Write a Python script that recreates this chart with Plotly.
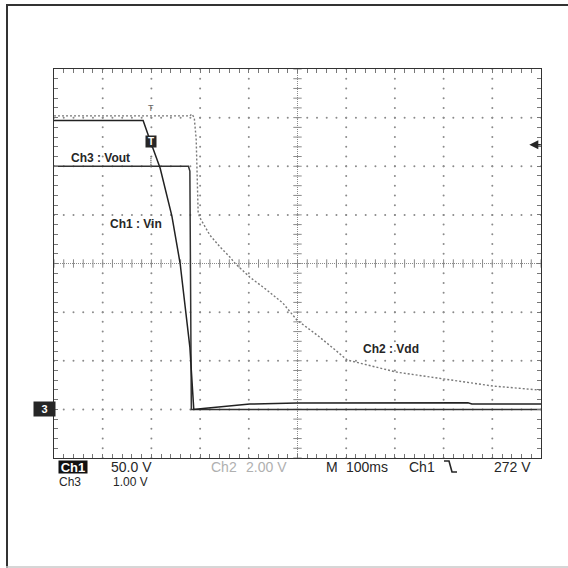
import plotly.graph_objects as go

# ---------------- data (read from the scope screen) ----------------
# time in ms (100 ms/div, trigger 2 div from the left edge)
ch1_t = [-200, -17, -3, 18, 42, 59, 79, 83, 86, 87, 106, 161, 202, 299, 510, 650, 658, 800]
ch1_v = [297, 297, 277, 248, 199, 150, 64, 30, 2.4, 0, 1, 3.9, 5.5, 6.5, 6.8, 6.8, 5.5, 5.5]

ch3_t = [-200, 76, 79, 81, 82, 800]
ch3_v = [5.0, 5.0, 4.9, 2.5, 0.0, 0.0]

ch2_t = [-200, 79, 83, 88, 92, 94, 96, 100, 120, 141, 161, 172, 202, 237, 270, 299, 340, 373, 402, 504, 599, 701, 800]
ch2_v = [12.07, 12.07, 12.15, 12.0, 11.1, 9.0, 8.08, 7.87, 7.17, 6.68, 6.27, 6.0, 5.44, 4.91, 4.37, 3.67, 3.06, 2.52, 2.03, 1.53, 1.25, 0.96, 0.79]

# scope settings
CH1_VDIV = 50.0
CH2_VDIV = 2.0
CH3_VDIV = 1.0
GND_DIV = -3.0
TRIG_LEVEL = 272.0   # V on Ch1
T_MIN, T_MAX = -200, 800
TIME_DIV = 100

bottom_row1 = [("50.0 V", 110), ("M", 325), ("100ms", 345), ("Ch1", 408), ("272 V", 493)]
bottom_row1_dim = [("Ch2", 210), ("2.00 V", 245)]
bottom_row2 = [("Ch3", 58), ("1.00 V", 112)]

# ---------------- helpers ----------------
PL, PR, PT, PB = 54, 541, 69, 458  # plot area in pixels
W = H = 568


def px(x):
    return (x - PL) / (PR - PL)


def py(y):
    return (PB - y) / (PB - PT)


def to_div(vals, vdiv):
    return [v / vdiv + GND_DIV for v in vals]


FONT = "Liberation Sans Narrow, Arial Narrow, Liberation Sans, Arial, sans-serif"
DARK = "#262626"

fig = go.Figure()

# ---- graticule dots ----
gx, gy = [], []
n_minor_x = int((T_MAX - T_MIN) / (TIME_DIV / 5))
for k in range(1, 10):
    if k == 5:
        continue
    t = T_MIN + k * TIME_DIV
    for j in range(0, 41):
        gx.append(t)
        gy.append(-4 + j * 0.2)
for d in [-3, -2, -1, 1, 2, 3]:
    for i in range(0, n_minor_x + 1):
        gx.append(T_MIN + i * TIME_DIV / 5)
        gy.append(d)
fig.add_trace(go.Scatter(x=gx, y=gy, mode="markers",
                         marker=dict(size=2, color="#8a8a8a", line=dict(width=0)),
                         hoverinfo="skip", showlegend=False))

# center crosshair ticks
tc = T_MIN + 5 * TIME_DIV
fig.add_trace(go.Scatter(x=[T_MIN + i * TIME_DIV / 5 for i in range(n_minor_x + 1)], y=[0] * (n_minor_x + 1),
                         mode="markers",
                         marker=dict(symbol="line-ns", size=6, line=dict(width=1, color="#8a8a8a")),
                         hoverinfo="skip", showlegend=False))
fig.add_trace(go.Scatter(x=[tc] * 41, y=[-4 + j * 0.2 for j in range(41)],
                         mode="markers",
                         marker=dict(symbol="line-ew", size=6, line=dict(width=1, color="#8a8a8a")),
                         hoverinfo="skip", showlegend=False))
fig.add_shape(type="line", x0=T_MIN, x1=T_MAX, y0=0, y1=0,
              line=dict(color="#8a8a8a", width=1, dash="1px,1px"), layer="below")
fig.add_shape(type="line", x0=tc, x1=tc, y0=-4, y1=4,
              line=dict(color="#8a8a8a", width=1, dash="1px,1px"), layer="below")

# ---- traces ----
fig.add_trace(go.Scatter(x=ch2_t, y=to_div(ch2_v, CH2_VDIV), mode="lines",
                         line=dict(color="#7a7a7a", width=1.4, dash="2px,2px"),
                         name="Ch2", showlegend=False))
fig.add_trace(go.Scatter(x=ch3_t, y=to_div(ch3_v, CH3_VDIV), mode="lines",
                         line=dict(color="#333333", width=1.5),
                         name="Ch3", showlegend=False))
fig.add_trace(go.Scatter(x=ch1_t, y=to_div(ch1_v, CH1_VDIV), mode="lines",
                         line=dict(color="#222222", width=1.5),
                         name="Ch1", showlegend=False))

# ---- trace labels ----
lab_font = dict(family=FONT, size=12, color=DARK)
fig.add_annotation(x=-104, y=2.18, text="<b>Ch3 : Vout</b>", showarrow=False, font=lab_font)
fig.add_annotation(x=-32, y=0.81, text="<b>Ch1 : Vin</b>", showarrow=False, font=lab_font)
fig.add_annotation(x=493, y=-1.76, text="<b>Ch2 : Vdd</b>", showarrow=False, font=lab_font)

# trigger marker box
fig.add_annotation(x=0, y=2.5, text="<b>T</b>", showarrow=False,
                   font=dict(family=FONT, size=10, color="white"),
                   bgcolor=DARK, width=10, height=11, borderpad=0)
fig.add_annotation(x=0, y=3.2, text="T", showarrow=False,
                   font=dict(family=FONT, size=9, color="#666666"))
fig.add_shape(type="line", x0=-1, x1=-1, y0=1.98, y1=2.2,
              line=dict(color="#666666", width=1.5, dash="1px,1px"))

# trigger level arrow (right edge)
trig_div = TRIG_LEVEL / CH1_VDIV + GND_DIV
fig.add_annotation(x=T_MAX - 24, y=trig_div, ax=13, ay=0, text="", showarrow=True,
                   arrowhead=2, arrowsize=1.2, arrowwidth=1.5, arrowcolor=DARK)

# ground marker (left edge)
fig.add_annotation(xref="paper", yref="y", x=px(44.5), y=GND_DIV, xanchor="center",
                   text="<b>3</b>",
                   showarrow=False, font=dict(family=FONT, size=11, color="white"),
                   bgcolor=DARK, width=19, height=12, borderpad=1)

# ---- bottom readout ----
fig.add_annotation(xref="paper", yref="paper", x=px(73), y=py(467), xanchor="center",
                   yanchor="middle", text="<b>Ch1</b>",
                   showarrow=False, font=dict(family=FONT, size=13, color="white"),
                   bgcolor="#111111", width=28, height=12, borderpad=0)
for txt, xx in bottom_row1:
    fig.add_annotation(xref="paper", yref="paper", x=px(xx), y=py(467), xanchor="left",
                       yanchor="middle", text=txt, showarrow=False, height=12, borderpad=0,
                       font=dict(family=FONT, size=14, color=DARK))
for txt, xx in bottom_row1_dim:
    fig.add_annotation(xref="paper", yref="paper", x=px(xx), y=py(467), xanchor="left",
                       yanchor="middle", text=txt, showarrow=False, height=12, borderpad=0,
                       font=dict(family=FONT, size=14, color="#b0b0b0"))
for txt, xx in bottom_row2:
    fig.add_annotation(xref="paper", yref="paper", x=px(xx), y=py(481), xanchor="left",
                       yanchor="middle", text=txt, showarrow=False, height=11, borderpad=0,
                       font=dict(family=FONT, size=12, color=DARK))

# falling-edge slope symbol
fig.add_shape(type="path", xref="paper", yref="paper",
              path=f"M {px(444)},{py(461)} L {px(449)},{py(461)} L {px(452)},{py(472)} L {px(457)},{py(472)}",
              line=dict(color=DARK, width=1.6))

# ---- outer frame ----
fig.add_shape(type="line", xref="paper", yref="paper", x0=px(7), x1=px(7), y0=py(4), y1=py(568),
              line=dict(color="#333333", width=2))
fig.add_shape(type="line", xref="paper", yref="paper", x0=px(6), x1=px(568), y0=py(5), y1=py(5),
              line=dict(color="#333333", width=2))
fig.add_shape(type="line", xref="paper", yref="paper", x0=px(6), x1=px(568), y0=py(567), y1=py(567),
              line=dict(color="#c8c8c8", width=1.5))

axis_common = dict(showgrid=False, zeroline=False, showline=True, linecolor="#333333",
                   linewidth=1.3, mirror="ticks", ticks="inside", ticklen=4,
                   tickcolor="#777777", tickwidth=1, showticklabels=False, fixedrange=True)
fig.update_layout(
    width=W, height=H,
    margin=dict(l=PL, r=W - PR, t=PT, b=H - PB, pad=0),
    paper_bgcolor="white", plot_bgcolor="white",
    xaxis=dict(range=[T_MIN, T_MAX], tick0=T_MIN, dtick=TIME_DIV / 5, **axis_common),
    yaxis=dict(range=[-4, 4], tick0=-4, dtick=0.2, **axis_common),
    showlegend=False,
)

fig.write_html("out.html")
